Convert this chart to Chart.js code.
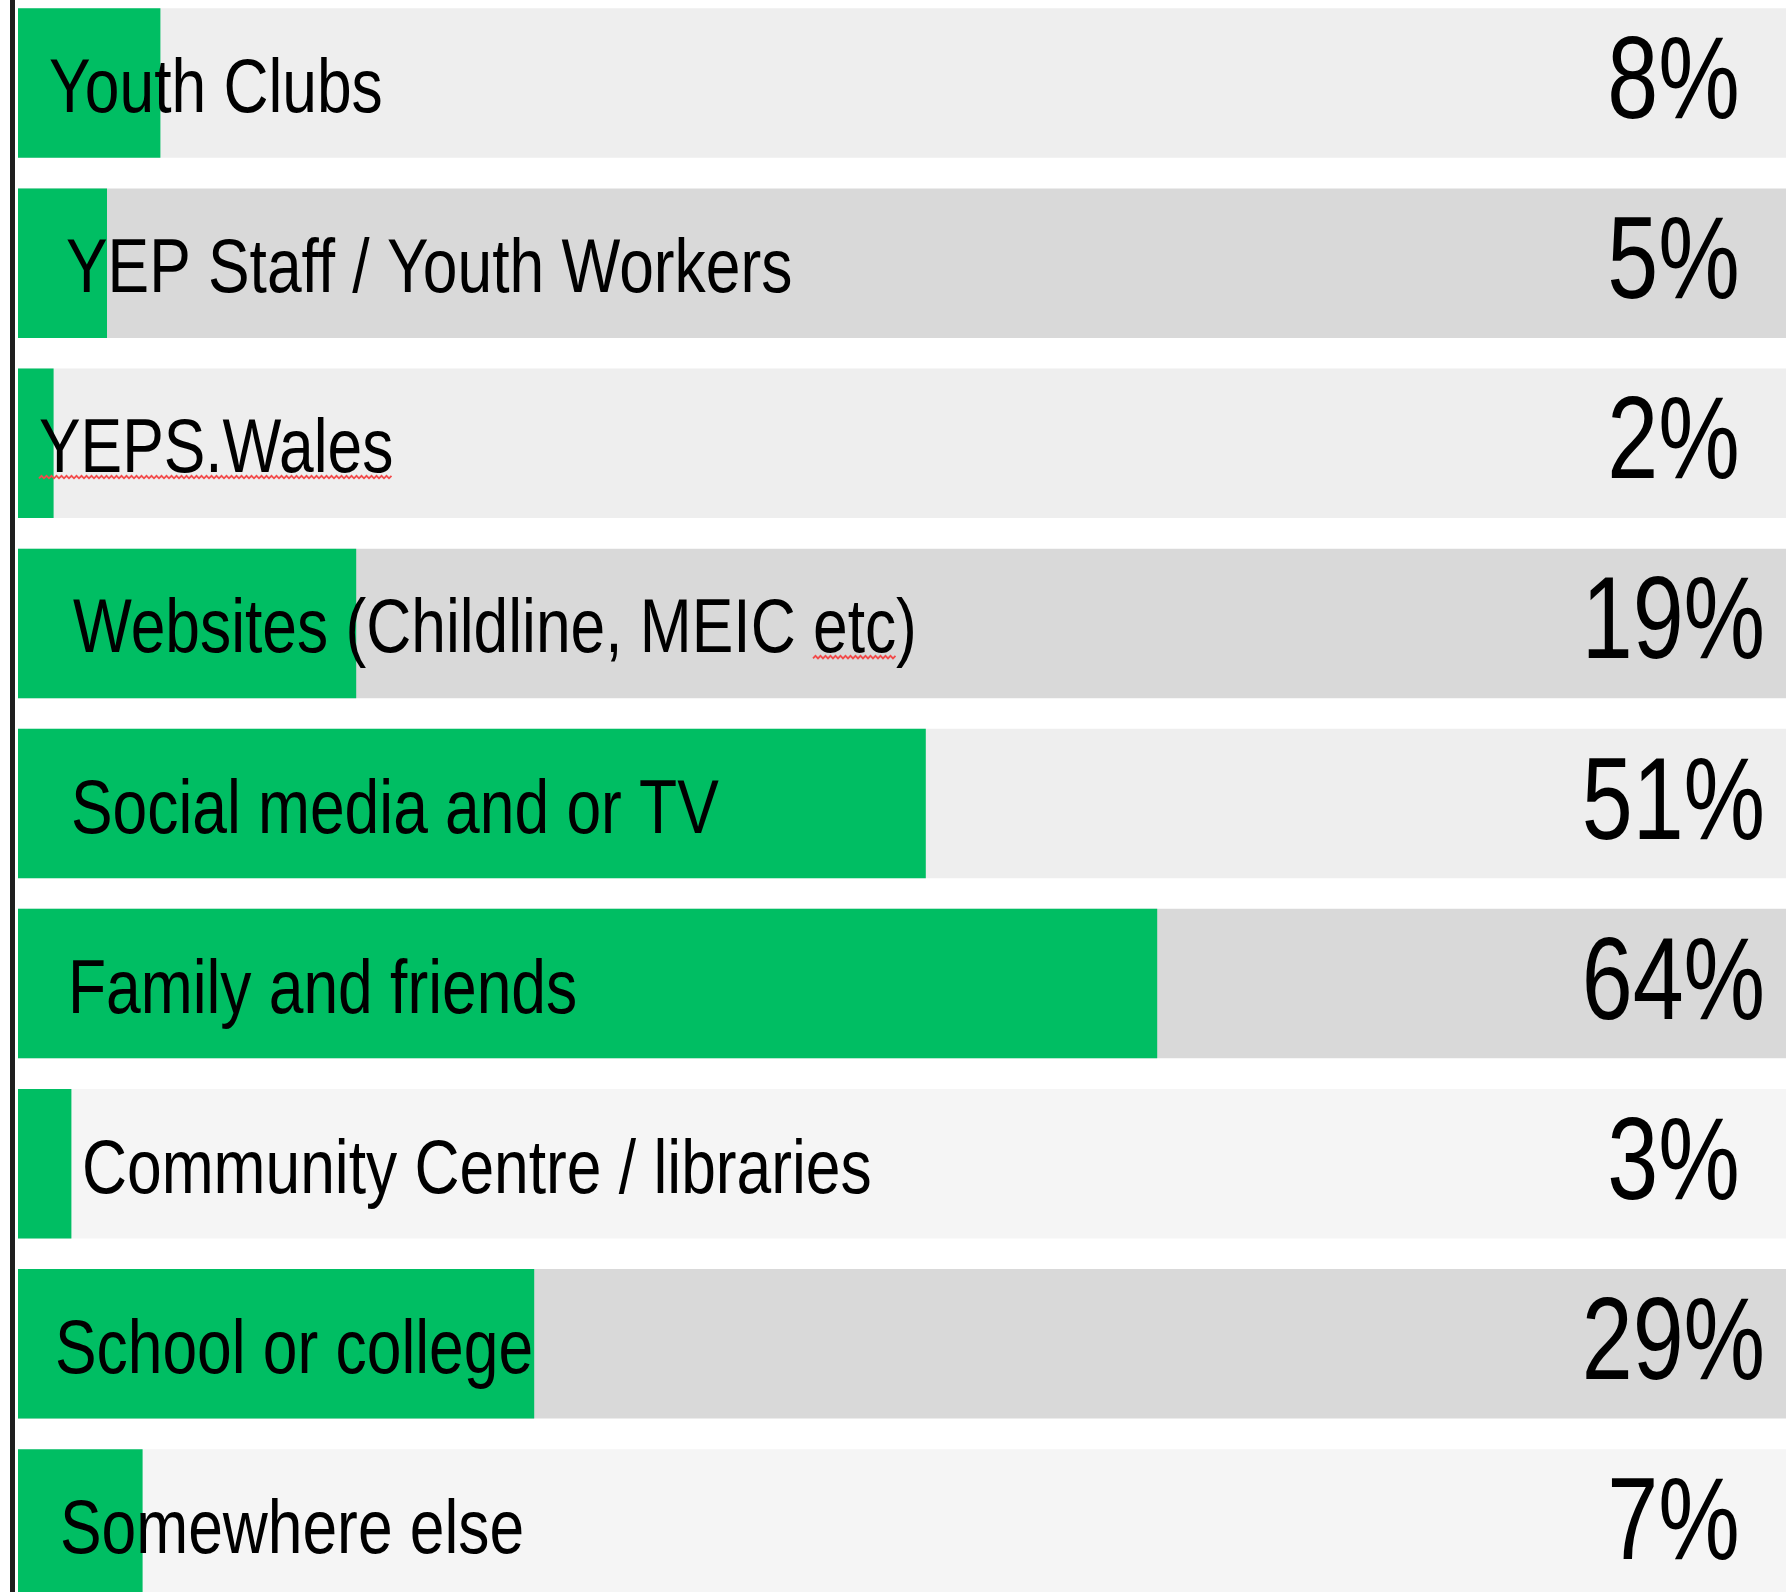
<!DOCTYPE html>
<html>
<head>
<meta charset="utf-8">
<script src="https://cdn.jsdelivr.net/npm/chart.js@4.4.1/dist/chart.umd.min.js"></script>
<style>
  html, body { margin: 0; padding: 0; background: #fff; overflow: hidden; }
  #wrap { position: absolute; left: 0; top: -7px; width: 1798px; height: 1621px; }
</style>
</head>
<body>
<div id="wrap"><canvas id="sourcesChart"></canvas></div>
<script>
// where young people hear about things
const categories = [
    'Youth Clubs',
    'YEP Staff / Youth Workers',
    'YEPS.Wales',
    'Websites (Childline, MEIC etc)',
    'Social media and or TV',
    'Family and friends',
    'Community Centre / libraries',
    'School or college',
    'Somewhere else'
];
const percents = [8, 5, 2, 19, 51, 64, 3, 29, 7];
const track = [100, 100, 100, 100, 100, 100, 100, 100, 100];

// styling
const trackColours = ['#eeeeee', '#d9d9d9', '#eeeeee', '#d9d9d9', '#eeeeee', '#d9d9d9', '#f5f5f5', '#d9d9d9', '#f5f5f5'];
const labelIndent = [49, 66, 39, 73, 71, 68, 82, 55, 60];
const squiggly = { 2: 'YEPS.Wales', 3: 'etc' };

function narrowText(ctx, text, x, y, sx, align) {
    ctx.save();
    ctx.translate(x, y);
    ctx.scale(sx, 1);
    ctx.textAlign = align;
    ctx.fillText(text, 0, 0);
    ctx.restore();
}

function zigzag(ctx, x0, x1, y) {
    ctx.save();
    ctx.strokeStyle = '#f24a4a';
    ctx.lineWidth = 1.8;
    ctx.beginPath();
    let up = true;
    ctx.moveTo(x0, y);
    for (let x = x0 + 2.5; x <= x1; x += 2.5) {
        ctx.lineTo(x, up ? y - 2.5 : y);
        up = !up;
    }
    ctx.stroke();
    ctx.restore();
}

const textPlugin = {
    id: 'rowText',
    beforeDraw(chart) {
        const ctx = chart.ctx;
        ctx.save();
        ctx.fillStyle = '#1e1e1e';
        ctx.fillRect(10, 0, 5, chart.height);
        ctx.restore();
    },
    afterDatasetsDraw(chart) {
        const ctx = chart.ctx;
        const yScale = chart.scales.y;
        const xScale = chart.scales.x;
        ctx.save();
        ctx.fillStyle = '#000';
        ctx.textBaseline = 'alphabetic';
        categories.forEach((cat, i) => {
            const y = yScale.getPixelForValue(i);
            ctx.font = "76px 'Liberation Sans', Arial, sans-serif";
            narrowText(ctx, cat, labelIndent[i], y + 29, 0.82, 'left');
            if (squiggly[i]) {
                const word = squiggly[i];
                const start = cat.indexOf(word);
                const x0 = labelIndent[i] + ctx.measureText(cat.slice(0, start)).width * 0.82;
                const x1 = x0 + ctx.measureText(word).width * 0.82;
                zigzag(ctx, x0, x1, y + 35);
            }
            ctx.font = "116px 'Liberation Sans', Arial, sans-serif";
            narrowText(ctx, percents[i] + '%', xScale.getPixelForValue(93), y + 35, 0.79, 'center');
        });
        ctx.restore();
    }
};

new Chart(document.getElementById('sourcesChart'), {
    type: 'bar',
    data: {
        labels: categories,
        datasets: [{
            label: 'Percent',
            data: percents,
            backgroundColor: '#00be63',
            grouped: false,
            barPercentage: 0.83,
            categoryPercentage: 1.0
        }, {
            label: 'Track',
            data: track,
            backgroundColor: trackColours,
            grouped: false,
            barPercentage: 0.83,
            categoryPercentage: 1.0
        }]
    },
    options: {
        indexAxis: 'y',
        responsive: true,
        maintainAspectRatio: false,
        animation: false,
        layout: { padding: { left: 18, right: 0, top: 0, bottom: 0 } },
        scales: {
            x: { display: false, min: 0, max: 100 },
            y: { display: false }
        },
        plugins: {
            legend: { display: false },
            tooltip: { enabled: false }
        }
    },
    plugins: [textPlugin]
});
</script>
</body>
</html>
